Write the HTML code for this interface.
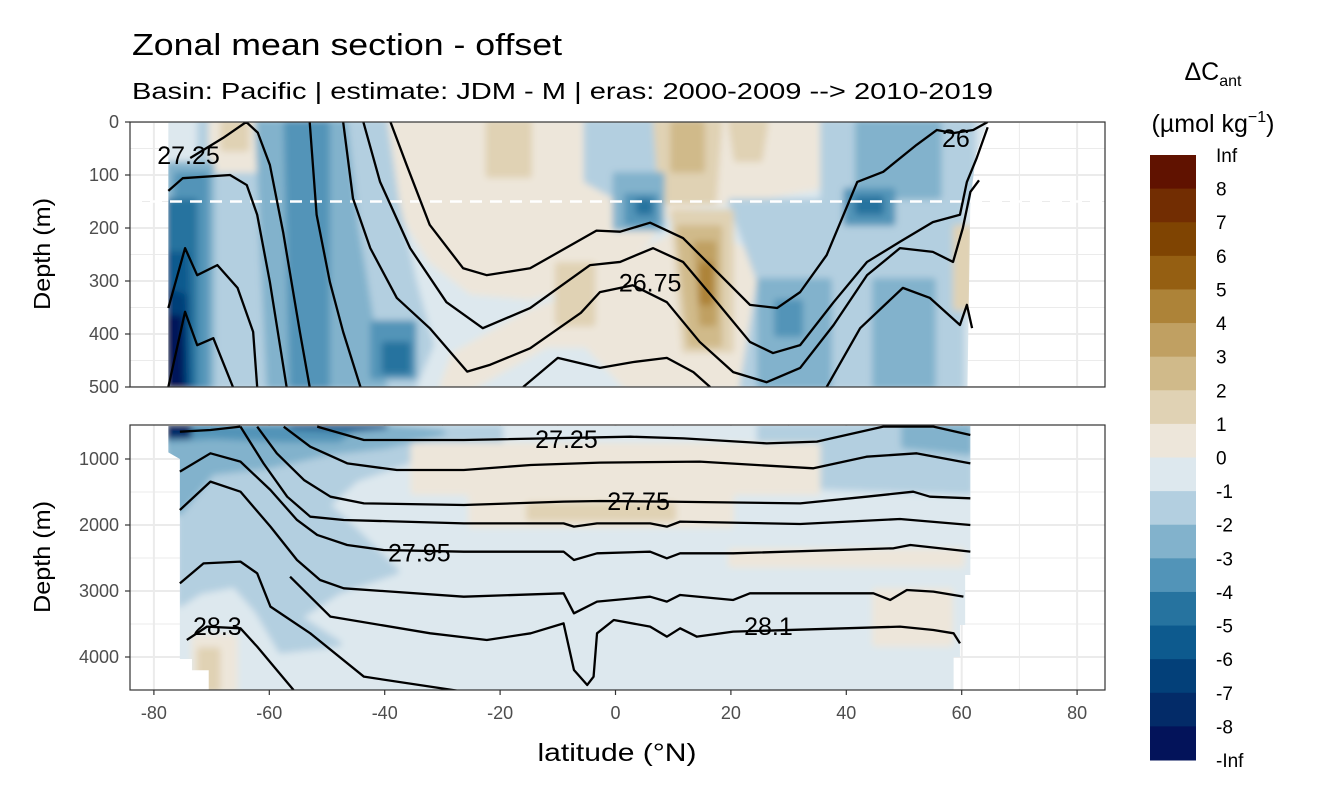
<!DOCTYPE html>
<html><head><meta charset="utf-8">
<style>
html,body{margin:0;padding:0;background:#fff;}
svg{display:block;font-family:"Liberation Sans",Arial,sans-serif;}
</style></head>
<body>
<svg id="chart" width="1344" height="806" viewBox="0 0 1344 806" xmlns="http://www.w3.org/2000/svg">
<text x="132" y="55" font-size="31" textLength="430" lengthAdjust="spacingAndGlyphs" fill="#000">Zonal mean section - offset</text>
<text x="132" y="99" font-size="23" textLength="861" lengthAdjust="spacingAndGlyphs" fill="#000">Basin: Pacific | estimate: JDM - M | eras: 2000-2009 --&gt; 2010-2019</text>
<text transform="translate(50,254) rotate(-90)" text-anchor="middle" font-size="23" textLength="112" lengthAdjust="spacingAndGlyphs">Depth (m)</text>
<text transform="translate(50,557) rotate(-90)" text-anchor="middle" font-size="23" textLength="112" lengthAdjust="spacingAndGlyphs">Depth (m)</text>
<text x="617" y="761" text-anchor="middle" font-size="25" textLength="159" lengthAdjust="spacingAndGlyphs">latitude (°N)</text>
<text x="1213" y="80" text-anchor="middle" font-size="25">ΔC<tspan font-size="16" dy="6">ant</tspan></text>
<text x="1213" y="132" text-anchor="middle" font-size="25">(µmol kg<tspan font-size="16" dy="-10">−1</tspan><tspan dy="10">)</tspan></text>
<g id="layers"></g>
</svg>
<script>
// ---- data ----
const colorLevels = ["Inf","8","7","6","5","4","3","2","1","0","-1","-2","-3","-4","-5","-6","-7","-8","-Inf"];
const binColors = ["#601200","#722d02","#7f4402","#955f12","#ad8338","#c0a062","#d0ba8a","#e0d2b4","#ede6da","#dde8ee","#b3cfe0","#82b2cc","#5294b8","#26739f","#0d5a8e","#034079","#032b68","#03135a"];
const xTicks = [-80,-60,-40,-20,0,20,40,60,80];
const topYTicks = [0,100,200,300,400,500];
const bottomYTicks = [1000,2000,3000,4000];

// filled regions: [binIndex, [[lat,depth],...]]
const topFills = [
 [8, [[-40,0],[36,0],[36,120],[20,150],[10,160],[5,230],[-3,300],[-15,330],[-25,320],[-32,260],[-40,120]]],
 [8, [[3,260],[12,200],[22,240],[25,330],[25,500],[2,500],[-5,420],[-12,420],[-25,500],[-30,500],[-28,440],[-15,360],[-5,320]]],
 [10,[[-72,0],[-40,0],[-38,150],[-35,300],[-32,420],[-35,500],[-72,500]]],
 [8, [[-70,0],[-61,0],[-62,90],[-70,90]]],
 [7, [[-68,0],[-64,0],[-64,50],[-68,50]]],
 [10,[[-5,0],[9,0],[8,130],[0,140],[-5,110]]],
 [10,[[20,150],[60,150],[60,500],[22,500],[25,300]]],
 [10,[[36,0],[62,0],[62,150],[36,150]]],
 [7, [[-22,0],[-15,0],[-15,100],[-22,100]]],
 [7, [[7,0],[18,0],[17,150],[8,150]]],
 [6, [[10,0],[15,0],[15,90],[10,90]]],
 [7, [[20,0],[26,0],[25,70],[21,70]]],
 [7, [[10,170],[20,170],[20,430],[12,430]]],
 [6, [[11,200],[18,200],[18,420],[13,420]]],
 [5, [[14,230],[17,230],[17,380],[15,380]]],
 [4, [[15,270],[16.5,270],[16.5,340],[15,340]]],
 [7, [[-10,270],[-4,270],[-4,380],[-10,380]]],
 [7, [[59,200],[61.5,200],[61.5,350],[59,350]]],
 [11,[[-62,0],[-47,0],[-45,200],[-42,400],[-40,500],[-60,500]]],
 [11,[[42,0],[56,0],[56,140],[42,140]]],
 [11,[[25,300],[37,300],[37,500],[25,500]]],
 [11,[[45,300],[55,300],[55,500],[45,500]]],
 [11,[[0,100],[8,100],[8,200],[0,200]]],
 [11,[[-77.5,80],[-70,80],[-70,500],[-77.5,500]]],
 [12,[[-57,0],[-50,0],[-50,500],[-56,500]]],
 [12,[[-76,100],[-71,100],[-71,500],[-76,500]]],
 [12,[[2,140],[7,140],[7,190],[2,190]]],
 [12,[[40,130],[48,130],[48,190],[40,190]]],
 [12,[[-42,380],[-35,380],[-35,480],[-42,480]]],
 [12,[[28,340],[32,340],[32,400],[28,400]]],
 [13,[[-77.5,150],[-73,150],[-73,500],[-77.5,500]]],
 [13,[[4,150],[6,150],[6,170],[4,170]]],
 [13,[[42,145],[46,145],[46,170],[42,170]]],
 [13,[[-40,420],[-36,420],[-36,470],[-40,470]]],
 [14,[[-77.5,250],[-74.5,250],[-74,500],[-77.5,500]]],
 [15,[[-77.5,320],[-74.8,330],[-74.5,500],[-77.5,500]]],
 [17,[[-77.5,370],[-75.5,370],[-75.3,500],[-77.5,500]]]
];
const bottomFills = [
 [10,[[-77.5,520],[-20,520],[-20,800],[-35,1000],[-45,1300],[-50,1700],[-45,2100],[-38,2700],[-48,3000],[-55,3400],[-48,3800],[-58,3900],[-62,3300],[-66,2900],[-72,3000],[-75.5,3200],[-75.5,520]]],
 [11,[[-77.5,500],[-40,500],[-30,600],[-40,800],[-50,900],[-60,1100],[-70,1200],[-75.5,1800],[-77.5,1800]]],
 [12,[[-77.5,500],[-45,500],[-48,700],[-58,700],[-70,650],[-77.5,700]]],
 [14,[[-56,500],[-45,540],[-40,500]]],
 [16,[[-77.5,500],[-74,500],[-74,650],[-77.5,650]]],
 [10,[[25,500],[61.5,500],[61.5,1500],[30,1400],[25,1000]]],
 [11,[[50,500],[61.5,500],[61.5,900],[50,800]]],
 [8, [[-35,800],[35,800],[35,1500],[-35,1500]]],
 [8, [[-25,1500],[20,1500],[20,2000],[-25,2000]]],
 [7, [[-15,1700],[10,1700],[10,1900],[-15,1900]]],
 [8, [[20,2400],[60,2400],[60,2600],[20,2600]]],
 [8, [[45,3000],[58,3000],[58,3800],[45,3800]]],
 [8, [[-73,3700],[-66,3700],[-66,4500],[-73,4500]]],
 [7, [[-72,3900],[-69,3900],[-69,4500],[-72,4500]]]
];

// contour lines [lat, depth]
const topLineA = [[-77.5,130],[-75,106],[-66.8,100],[-63.9,119],[-62.1,175],[-59.9,302],[-57,500]];
const topLineB = [[-77.5,351],[-74.6,238],[-72.5,289],[-69,270],[-65.5,313],[-62.8,396],[-62.1,500]];
const topLineC = [[-77.5,500],[-74.6,358],[-72.5,421],[-69.7,408],[-66.3,500]];
const topLineD = [[-73.7,68],[-68,30],[-64,0],[-62,20],[-59.9,81],[-57.6,208],[-54.7,396],[-53,500]];
const topLineE = [[-53,0],[-51.8,175],[-49.5,302],[-47.2,396],[-44.2,500]];
const topLineF = [[-47.2,0],[-45.5,144],[-42.5,238],[-37.9,332],[-32.2,389],[-25.7,471],[-21.7,458],[-14.8,427],[-6,360],[-2.7,321],[3,308],[8.9,340],[14.6,415],[20.4,472],[26.2,491],[32,464],[37.8,383],[43.6,289],[49.3,238],[55,245],[58.5,264],[60.2,200],[61.5,132],[63,110]];
const topLineG = [[-43.7,0],[-40.8,113],[-35.6,238],[-29.3,340],[-23,389],[-14.8,351],[-4.4,270],[0.8,264],[6.5,238],[11.7,264],[17.6,340],[23.3,415],[27.3,436],[32,421],[37.8,340],[43.6,264],[49.3,226],[55,189],[59.7,175],[60.9,113],[62.6,68],[64.5,10]];
const topLineH = [[-39,0],[-36.2,81],[-32.2,194],[-26.4,276],[-22.3,289],[-14.8,276],[-3.3,205],[0.8,207],[6,190],[11.7,219],[17.6,283],[23.3,345],[28,351],[32,321],[36.6,251],[41.9,113],[46.4,94],[52.2,43],[55.7,15],[58.5,21],[62,15],[64.5,0]];
const topLineI = [[-16,500],[-10,445],[-2.7,464],[3,453],[8.9,445],[13.5,472],[16.4,500]];
const topLineJ = [[36.6,500],[42.4,389],[49.8,313],[54.5,332],[59.7,383],[60.9,345],[61.8,389]];

const botLineA = [[-75.5,586],[-70.2,561],[-65,510]];
const botLineP = [[-51.7,510],[-43.6,712],[-26.3,712],[2.6,662],[11.8,687],[26.2,763],[34.9,737],[46.4,510],[55.1,510],[61.5,636]];
const botLineB = [[-57.5,510],[-52.9,813],[-46.5,1066],[-37.9,1167],[-26.3,1167],[-14.7,1091],[-2.7,1055],[14.6,1040],[34.3,1141],[43.5,965],[52.2,914],[61.5,1066]];
const botLineC = [[-62.1,510],[-58.7,914],[-54,1318],[-49.4,1571],[-43.6,1672],[-26.3,1697],[-9,1646],[-2.7,1636],[8.9,1646],[32,1672],[43.5,1571],[51.6,1495],[54.5,1571],[61.5,1596]];
const botLineD = [[-65,510],[-61,1066],[-56.9,1571],[-52.9,1874],[-47.1,1924],[-26.3,1975],[-9,1975],[-7.2,2025],[-3.2,1975],[6,1975],[8.9,2025],[11.2,1949],[32,1985],[49.3,1909],[61.5,2000]];
const botLineE = [[-75.5,1192],[-70.2,914],[-65,1040],[-59.8,1470],[-55.2,1924],[-51.7,2151],[-46.5,2303],[-40.2,2379],[-26.3,2404],[-9,2404],[-7.2,2530],[-3.2,2429],[6,2404],[8.9,2505],[11.2,2429],[20.4,2429],[48.2,2353],[51.1,2303],[61.5,2404]];
const botLineF = [[-75.5,1773],[-70.2,1343],[-65,1495],[-59.8,2025],[-55.2,2530],[-51.2,2833],[-47.1,2959],[-26.3,3086],[-9,3035],[-7.2,3338],[-3.2,3161],[6,3086],[8.9,3161],[11.2,3060],[20.4,3136],[23.3,3035],[44.7,3035],[47.6,3136],[50.5,2985],[55.1,3010],[60.3,3086]];
const botLineG = [[-75.5,2884],[-71.4,2581],[-65,2555],[-62.1,2732],[-59.8,3237],[-52.9,3641],[-43.6,4298],[-26.3,4525]];
const botLineJ = [[-56.4,2783],[-49.4,3389],[-32.1,3641],[-22.3,3742],[-14.7,3641],[-9,3490],[-7.2,4197],[-4.9,4424],[-3.8,4298],[-3.2,3641],[-0.3,3439],[6,3540],[8.9,3692],[11.2,3565],[14.1,3692],[20.4,3616],[49.3,3540],[55.1,3591],[58.6,3641],[59.7,3793]];
const botLineH = [[-74.3,3742],[-70.8,3540],[-65,3565],[-62.1,3843],[-59.2,4146],[-55.8,4500]];

const topLabels = [["27.25",-74,62],["26.75",6,303],["26",59,30]];
const bottomLabels = [["27.25",-8.5,700],["27.75",4,1640],["27.95",-34,2420],["28.3",-69,3530],["28.1",26.5,3530]];

// ---- scales ----
const X = lat => 615.5 + lat*5.77;
const YT = d => 122 + d*0.53;
const YB = d => 459 + (d-1000)*0.066;
const NS = "http://www.w3.org/2000/svg";
const root = document.getElementById('layers');
function mk(tag, attrs, parent){const e=document.createElementNS(NS,tag);for(const k in attrs)e.setAttribute(k,attrs[k]);(parent||root).appendChild(e);return e;}

const defs = mk('defs',{});
const flt = mk('filter',{id:'soft',x:'-5%',y:'-5%',width:'110%',height:'110%'},defs);
mk('feGaussianBlur',{stdDeviation:3.5},flt);
const cp1 = mk('clipPath',{id:'clipTop'},defs); mk('rect',{x:130,y:122,width:975,height:265},cp1);
const cp2 = mk('clipPath',{id:'clipBot'},defs); mk('rect',{x:130,y:425,width:975,height:265},cp2);
const cpd1 = mk('clipPath',{id:'dataTop'},defs);
mk('polygon',{points:[[-77.5,0],[64.5,0],[62.5,60],[61.5,150],[61,500],[-77.5,500]].map(p=>X(p[0])+','+YT(p[1])).join(' ')},cpd1);
const cpd2 = mk('clipPath',{id:'dataBot'},defs);
mk('polygon',{points:[[-77.5,500],[61.5,500],[61.5,2757],[60.6,2757],[60.6,3515],[59.7,3515],[59.7,4000],[58.6,4000],[58.6,4500],[-70.5,4500],[-70.5,4200],[-73.4,4200],[-73.4,4030],[-75.5,4030],[-75.5,3515],[-75.5,1000],[-77.5,900]].map(p=>X(p[0])+','+YB(p[1])).join(' ')},cpd2);

function panel(name, yTop, Y, yTicks, minorY, fills, lines, labels, clipId, dataClip){
  const g = mk('g',{});
  
  
  const bg = mk('rect',{x:130,y:yTop,width:975,height:265,fill:'#fff'},g);
  
  
  const grid = mk('g',{'clip-path':'url(#'+clipId+')'},g);
  
  
  for(let lat=-90;lat<=90;lat+=10){mk('line',{x1:X(lat),x2:X(lat),y1:yTop,y2:yTop+265,stroke:'#ebebeb','stroke-width':lat%20===0?2:1},grid);}
  minorY.forEach(d=>mk('line',{x1:130,x2:1105,y1:Y(d),y2:Y(d),stroke:'#ebebeb','stroke-width':1},grid));
  yTicks.forEach(d=>mk('line',{x1:130,x2:1105,y1:Y(d),y2:Y(d),stroke:'#ebebeb','stroke-width':2},grid));
  const fg = mk('g',{'clip-path':'url(#'+clipId+')'},g);
  const fd = mk('g',{'clip-path':'url(#'+dataClip+')'},fg);
  
  
  const fb = mk('g',{filter:'url(#soft)'},fd);
  mk('rect',{x:100,y:yTop-40,width:1040,height:360,fill:binColors[9]},fb);
  fills.forEach((f,i)=>{
    const p = mk('polygon',{points:f[1].map(q=>X(q[0])+','+Y(q[1])).join(' '),fill:binColors[f[0]],stroke:binColors[f[0]],'stroke-width':6,'stroke-linejoin':'round'},fb);
    
    
  });
  if(name==='top-panel'){
    const dl = mk('line',{x1:130,x2:1105,y1:YT(150),y2:YT(150),stroke:'#fff','stroke-width':2.5,'stroke-dasharray':'12,8'},fg);
    
    
  }
  lines.forEach((ln,i)=>{
    const pl = mk('polyline',{points:ln.map(q=>X(q[0])+','+Y(q[1])).join(' '),fill:'none',stroke:'#000','stroke-width':2.3,'stroke-linejoin':'round'},fg);
    
    
  });
  labels.forEach(l=>{
    const t = mk('text',{x:X(l[1]),y:Y(l[2])+9,'text-anchor':'middle','font-size':25,fill:'#000'},fg);
    t.textContent = l[0];
    
    
  });
  const border = mk('rect',{x:130,y:yTop,width:975,height:265,fill:'none',stroke:'#333','stroke-width':1.2},g);
  
  
  yTicks.forEach(d=>{
    mk('line',{x1:125,x2:130,y1:Y(d),y2:Y(d),stroke:'#333','stroke-width':1.2},g);
    const t = mk('text',{x:119,y:Y(d)+6,'text-anchor':'end','font-size':18,fill:'#4d4d4d'},g);
    t.textContent = d;
    
    
  });
}
panel('top-panel',122,YT,topYTicks,[50,150,250,350,450],topFills,
  [topLineA,topLineB,topLineC,topLineD,topLineE,topLineF,topLineG,topLineH,topLineI,topLineJ],topLabels,'clipTop','dataTop');
panel('bottom-panel',425,YB,bottomYTicks,[1500,2500,3500],bottomFills,
  [botLineA,botLineP,botLineB,botLineC,botLineD,botLineE,botLineF,botLineG,botLineJ,botLineH],bottomLabels,'clipBot','dataBot');

xTicks.forEach(v=>{
  mk('line',{x1:X(v),x2:X(v),y1:690,y2:695,stroke:'#333','stroke-width':1.2});
  const t = mk('text',{x:X(v),y:719,'text-anchor':'middle','font-size':18,fill:'#4d4d4d'});
  t.textContent = v;
  
  
});

const cb = mk('g',{});


const step = (760-155)/binColors.length;
binColors.forEach((c,i)=>{
  const r = mk('rect',{x:1150,y:155+i*step,width:46,height:step+0.5,fill:c},cb);
  
  
});
colorLevels.forEach((lab,i)=>{
  const t = mk('text',{x:1216,y:155+i*step+7,'font-size':19,fill:'#000'},cb);
  t.textContent = lab;
  
  
});
</script>
</body></html>
